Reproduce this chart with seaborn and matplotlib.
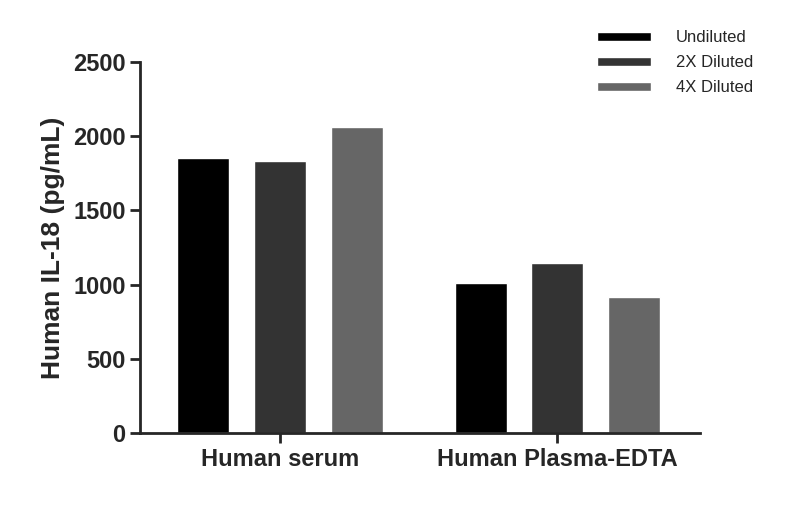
import pandas as pd
import seaborn as sns
import matplotlib.pyplot as plt

samples = ['Human serum', 'Human Plasma-EDTA']
dilutions = ['Undiluted', '2X Diluted', '4X Diluted']
serum_vals = [1853, 1833, 2062]
plasma_vals = [1011, 1146, 916]
colors = ['#000000', '#333333', '#666666']

df = pd.DataFrame({
    'Sample': [samples[0]] * 3 + [samples[1]] * 3,
    'Dilution': dilutions * 2,
    'Value': serum_vals + plasma_vals,
})

sns.set_style('ticks')
plt.rcParams['font.family'] = ['Liberation Sans', 'DejaVu Sans']

fig = plt.figure(figsize=(7.87, 5.07), dpi=100)
ax = fig.add_axes([0.178, 0.146, 0.712, 0.732])
sns.barplot(data=df, x='Sample', y='Value', hue='Dilution', palette=colors,
            width=0.83, gap=0.32, ax=ax, legend=True)

ax.set_xlim(-0.505, 1.516)
ax.set_ylim(0, 2500)
ax.set_yticks([0, 500, 1000, 1500, 2000, 2500])
ax.set_xlabel('')
ax.set_ylabel('Human IL-18 (pg/mL)', fontsize=19, fontweight='bold', labelpad=6)
for lab in ax.get_xticklabels() + ax.get_yticklabels():
    lab.set_fontweight('bold')
ax.tick_params(axis='y', labelsize=17, width=2, length=7)
ax.tick_params(axis='x', labelsize=17, width=2, length=7)
for s in ['left', 'bottom']:
    ax.spines[s].set_linewidth(2)
sns.despine(ax=ax)

handles, labels = ax.get_legend_handles_labels()
ax.get_legend().remove()
fig.legend(handles, labels, loc='upper left', bbox_to_anchor=(0.74, 0.97),
           frameon=False, fontsize=12, handlelength=3.2, handleheight=0.5,
           handletextpad=1.5, labelspacing=0.6)

fig.savefig('out.png', dpi=100)
